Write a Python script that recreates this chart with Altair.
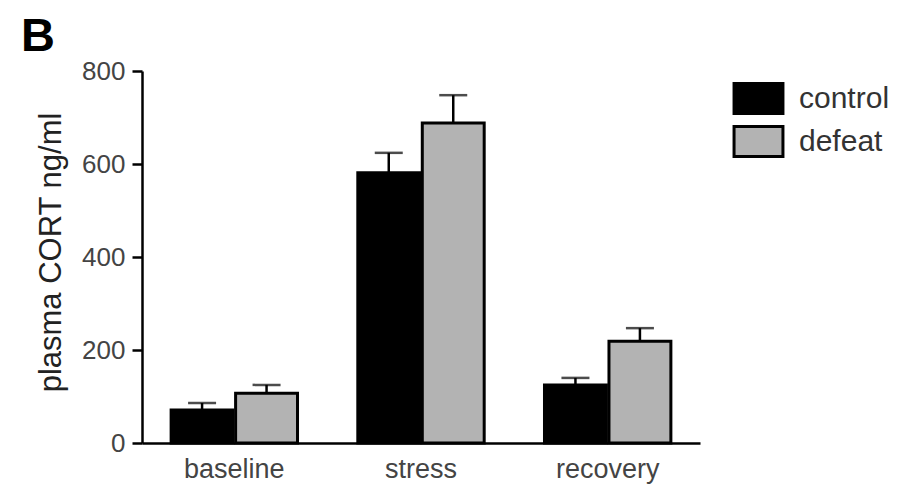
import altair as alt
import pandas as pd

categories = ["baseline", "stress", "recovery"]
groups = ["control", "defeat"]
control_mean = [71, 581, 125]
defeat_mean = [107, 688, 219]
control_sem = [15, 43, 15]
defeat_sem = [18, 60, 28]

rows = []
for i, c in enumerate(categories):
    rows.append({"phase": c, "group": "control", "mean": control_mean[i], "upper": control_mean[i] + control_sem[i]})
    rows.append({"phase": c, "group": "defeat", "mean": defeat_mean[i], "upper": defeat_mean[i] + defeat_sem[i]})
df = pd.DataFrame(rows)

FONT = "Liberation Sans"

xaxis = alt.Axis(labelAngle=0, labelAlign="center", labelBaseline="top", ticks=False,
                 domainColor="black", domainWidth=2.5,
                 labelFontSize=27, labelColor="#444", labelPadding=13, labelFont=FONT)
xscale = alt.Scale(paddingInner=0.323, paddingOuter=0.156)
xenc = alt.X("phase:N", sort=categories, title=None, scale=xscale, axis=xaxis)
xoff = alt.XOffset("group:N", sort=groups, scale=alt.Scale(paddingInner=0.04))
yscale = alt.Scale(domain=[0, 800], nice=False)
yaxis = alt.Axis(values=[0, 200, 400, 600, 800], grid=False, domainColor="black", domainWidth=2.5,
                 tickColor="black", tickWidth=2.5, tickSize=10, labelFontSize=26, labelColor="#444",
                 labelPadding=7, labelFont=FONT, titleFont=FONT, titleFontSize=31,
                 titleFontWeight="normal", titleColor="#222", titleX=-91, titleY=181,
                 titleBaseline="middle", titleAlign="center", titleAngle=270)
TITLE = "plasma CORT ng/ml"

base = alt.Chart(df)

bars = base.mark_bar(stroke="black", strokeWidth=3).encode(
    x=xenc,
    xOffset=xoff,
    y=alt.Y("mean:Q", scale=yscale, title=TITLE, axis=yaxis),
    color=alt.Color("group:N", sort=groups,
                    scale=alt.Scale(domain=groups, range=["#000000", "#b3b3b3"]),
                    legend=alt.Legend(title=None, orient="none", legendX=600, legendY=11,
                                      symbolType="M-1.63,-1L1.63,-1L1.63,1L-1.63,1Z", symbolSize=900,
                                      symbolStrokeColor="black", symbolStrokeWidth=3,
                                      labelFontSize=30, labelColor="#333", labelFont=FONT,
                                      labelOffset=24, rowPadding=0, padding=0)),
)

err = base.mark_rule(color="black", strokeWidth=2.5).encode(
    x=xenc,
    xOffset=xoff,
    y=alt.Y("mean:Q", scale=yscale, title=TITLE, axis=yaxis),
    y2="upper:Q",
)

caps = base.mark_tick(color="black", thickness=2.5, size=28).encode(
    x=xenc,
    xOffset=xoff,
    y=alt.Y("upper:Q", scale=yscale, title=TITLE, axis=yaxis),
)

label = alt.Chart(pd.DataFrame({"t": ["B"]})).mark_text(
    font=FONT, fontSize=47, fontWeight="bold", align="left", baseline="alphabetic", color="black"
).encode(x=alt.value(-121), y=alt.value(-20), text="t:N")

chart = alt.layer(bars, err, caps, label).properties(
    width=558, height=372,
    autosize="none",
    padding={"left": 134, "top": 63, "right": 208, "bottom": 42},
).configure_view(stroke=None)

chart.save("out.html", embed_options={"renderer": "svg", "actions": False})
